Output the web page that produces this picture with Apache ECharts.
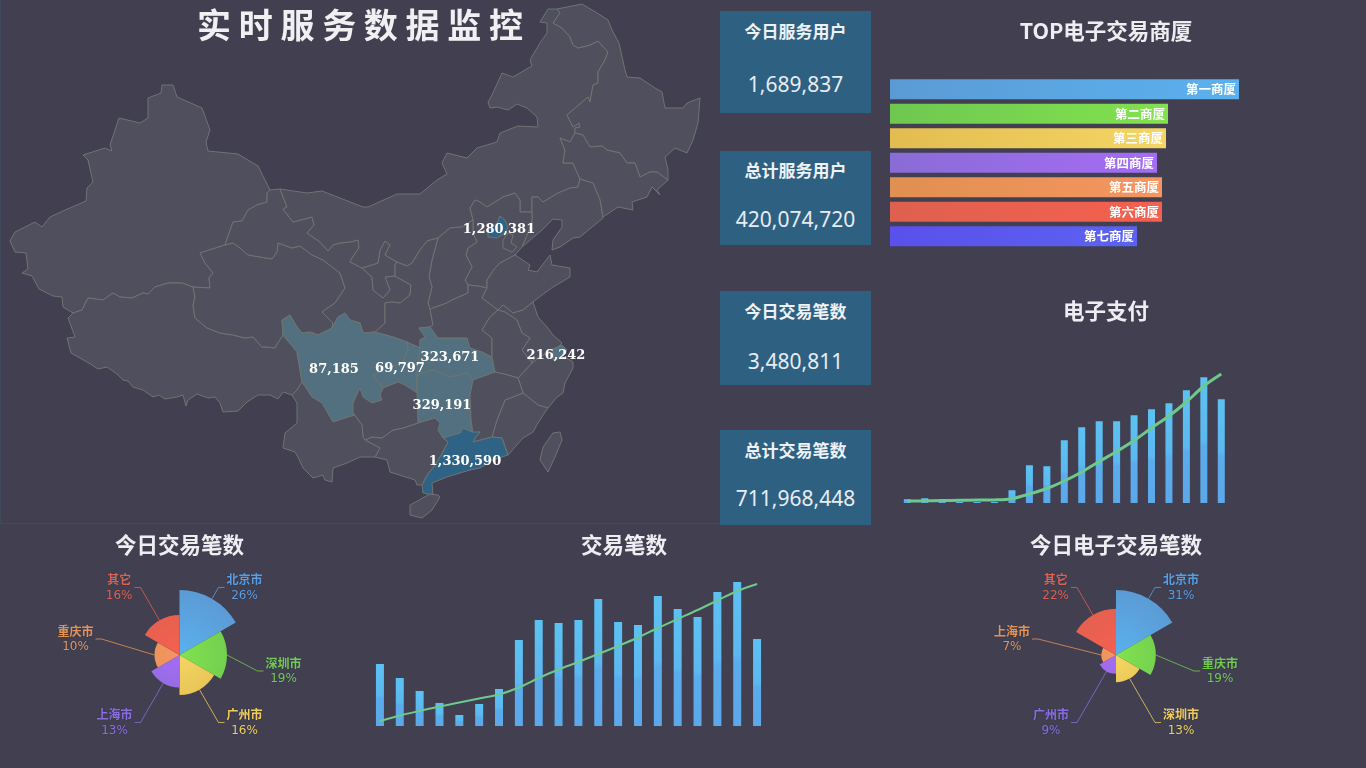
<!DOCTYPE html>
<html>
<head>
<meta charset="utf-8">
<title>实时服务数据监控</title>
<script src="https://cdn.jsdelivr.net/npm/echarts@6/dist/echarts.min.js"></script>
<style>
html,body{margin:0;padding:0;width:1366px;height:768px;overflow:hidden;background:#413f50;font-family:"Noto Sans CJK SC",sans-serif;}
.chart{position:absolute;}
#chartMap{left:0;top:0;width:720px;height:524px;box-sizing:border-box;border-left:1px solid #3e4b5c;border-bottom:1px solid #3e4b5c;}
#chartTop{left:880px;top:0;width:452px;height:260px;}
#chartPay{left:880px;top:290px;width:452px;height:230px;}
#chartTrade{left:360px;top:525px;width:528px;height:215px;}
#chartPieA{left:39px;top:525px;width:281px;height:240px;}
#chartPieB{left:976px;top:525px;width:280px;height:240px;}
.stat{position:absolute;left:720px;width:151px;background:#2e6082;text-align:center;}
.stat b{position:absolute;left:0;right:0;font-size:17px;line-height:24px;color:#eef1f5;}
.stat span{position:absolute;left:0;right:0;font-family:"Noto Sans",sans-serif;font-size:21px;line-height:28px;color:#e8ecf2;}
</style>
</head>
<body>
<div id="chartMap" class="chart"></div>
<div id="chartTop" class="chart"></div>
<div id="chartPay" class="chart"></div>
<div id="chartTrade" class="chart"></div>
<div id="chartPieA" class="chart"></div>
<div id="chartPieB" class="chart"></div>
<div id="stats"></div>
<script>
//---------数据-------------------
var statTitles = ['今日服务用户','总计服务用户','今日交易笔数','总计交易笔数'];
var statValues = ['1,689,837','420,074,720','3,480,811','711,968,448'];

var regionNames = ['北京','广东','四川','重庆','湖北','湖南','上海'];
var regionValues = [1280381,1330590,87185,69797,323671,329191,216242];

var topNames = ['第一商厦','第二商厦','第三商厦','第四商厦','第五商厦','第六商厦','第七商厦'];
var topValues = [3490,2780,2760,2670,2720,2720,2470];

var payDays = ['1','2','3','4','5','6','7','8','9','10','11','12','13','14','15','16','17','18','19'];
var payBars = [3.7,4.7,2.7,1,1,1,12.7,37.7,36.7,62.7,75.7,81.7,81.7,87.7,93.7,99.7,112.7,125.7,103.7];
var payLine = [2,2.2,2.5,2.7,2.9,3.1,4.3,9,14.5,22,31,41.5,51.5,62.5,75,87,101,117,129];

var tradeDays = ['1','2','3','4','5','6','7','8','9','10','11','12','13','14','15','16','17','18','19','20'];
var tradeBars = [62,48,35,23,11,22,37,86,106,103,106,127,104,101,130,117,109,134,144,87];
var tradeLine = [5,10.5,15,19.5,23.5,27.5,31.5,38.5,48,56.5,64,72,80,88.5,98,107,116,125.5,135,142];

var pieNamesA = ['北京市','深圳市','广州市','上海市','重庆市','其它'];
var pieValuesA = [26,19,16,13,10,16];
var pieNamesB = ['北京市','重庆市','深圳市','广州市','上海市','其它'];
var pieValuesB = [31,19,13,9,7,22];

//---省界，手工描的墨卡托投影坐标（约 10km 一个单位，y 向下），只是底图
var provinceShapes = [
    ['新疆','270,190 258,166 238,154 208,151 206,142 210,130 202,108 193,104 177,97 173,85 162,85 161,93 148,98 148,118 140,123 119,118 110,145 112,151 105,148 83,155 88,160 93,182 87,188 86,201 63,211 50,217 42,227 35,222 25,227 15,232 10,241 15,252 26,253 28,269 22,273 32,276 39,289 53,296 62,297 63,307 73,313 82,310 88,298 103,300 113,293 120,297 132,298 143,293 148,294 155,287 168,283 182,283 193,287 210,288 209,278 213,273 205,263 200,253 225,245 233,222 242,221 248,210 257,205 267,202 267,193'],
    ['西藏','73,313 82,310 88,298 103,300 113,293 120,297 132,298 143,293 148,294 155,287 168,283 182,283 193,287 195,297 193,305 195,318 207,328 220,333 233,335 245,338 253,337 262,347 268,347 275,348 277,344 283,335 297,352 302,382 297,390 292,395 283,392 278,399 270,395 258,395 247,402 238,411 223,412 220,403 215,397 208,398 197,394 188,400 186,406 183,395 177,397 165,399 159,395 153,397 143,390 133,387 128,381 123,380 117,374 107,367 98,369 92,365 80,358 71,353 67,338 75,337 68,318'],
    ['青海','200,253 225,245 233,243 240,248 248,255 260,257 272,259 277,252 278,243 292,248 300,246 312,255 323,260 340,273 345,288 335,303 322,312 333,323 332,328 318,335 310,332 302,333 297,327 290,315 282,320 283,335 277,344 275,348 268,347 262,347 253,337 245,338 233,335 220,333 207,328 195,318 193,305 195,297 193,287 210,288 209,278 213,273 205,263'],
    ['甘肃','225,245 233,222 242,221 248,210 257,205 267,202 267,193 270,190 280,189 287,207 283,209 293,222 312,217 314,225 307,233 320,242 328,251 333,245 340,243 350,242 358,240 359,248 352,258 350,262 362,268 372,277 373,290 383,298 390,290 385,277 395,276 411,285 410,295 400,303 392,302 385,303 385,323 375,332 363,333 360,323 350,320 345,313 338,317 332,328 333,323 322,312 335,303 345,288 340,273 323,260 312,255 300,246 292,248 278,243 277,252 272,259 260,257 248,255 240,248 233,243'],
    ['宁夏','362,268 378,263 380,250 385,241 390,245 385,255 397,262 395,265 395,276 385,277 390,290 383,298 373,290 372,277'],
    ['内蒙古','280,189 307,193 322,191 340,198 363,207 368,207 397,194 420,194 437,180 447,174 442,163 447,153 467,158 477,148 497,142 500,133 518,126 538,127 537,117 527,108 517,104 508,110 497,107 490,108 488,102 492,95 502,73 513,77 532,66 530,60 540,43 547,33 547,23 540,22 548,9 557,9 560,13 553,23 562,28 570,37 573,45 578,48 590,45 598,41 608,52 605,60 598,72 598,83 593,85 590,102 588,97 567,115 573,127 579,123 580,127 575,128 575,133 570,142 560,138 565,150 563,163 573,163 580,179 578,187 570,188 558,193 543,202 538,197 532,197 532,212 520,212 520,200 515,193 503,197 487,207 480,202 475,200 470,208 473,220 462,227 450,228 438,238 427,241 420,250 412,263 407,266 397,262 385,255 390,245 385,241 380,250 378,263 362,268 350,262 352,258 359,248 358,240 350,242 340,243 333,245 328,251 320,242 307,233 314,225 312,217 293,222 283,209 287,207'],
    ['黑龙江','557,9 582,4 597,13 608,20 612,30 619,43 625,70 627,77 640,78 655,88 662,92 665,108 683,108 687,103 700,98 698,123 693,140 687,153 675,148 665,157 668,170 668,180 657,172 650,172 640,177 635,163 627,163 620,153 607,150 602,146 590,147 583,135 575,133 575,128 580,127 579,123 573,127 567,115 588,97 590,102 593,85 598,83 598,72 605,60 608,52 598,41 590,45 578,48 573,45 570,37 562,28 553,23 560,13'],
    ['吉林','575,133 583,135 590,147 602,146 607,150 620,153 627,163 635,163 640,177 650,172 657,172 668,180 657,190 660,195 652,187 647,197 632,202 633,210 618,207 603,217 600,200 593,183 583,180 580,179 573,163 563,163 565,150 560,138 570,142'],
    ['辽宁','580,179 583,180 593,183 600,200 603,218 580,237 573,238 560,247 552,250 553,240 562,227 562,220 553,219 542,230 522,247 527,235 532,222 532,212 532,197 538,197 543,202 558,193 570,188 578,187'],
    ['河北','473,220 470,208 475,200 480,202 487,207 503,197 515,193 520,200 520,212 532,212 532,222 527,235 522,247 515,255 500,263 495,268 487,280 487,288 478,286 468,285 465,280 472,267 466,255 468,248 477,242 473,233'],
    ['北京','500,216 505,220 508,227 505,233 497,238 488,237 488,230 497,223'],
    ['天津','508,233 513,235 511,243 517,247 512,252 503,248 503,240'],
    ['山西','473,220 473,233 477,242 468,248 466,255 472,267 465,280 468,285 468,293 452,300 447,303 430,309 428,303 432,287 429,277 432,260 438,238 450,228 462,227'],
    ['陕西','438,238 432,260 429,277 432,287 428,303 430,309 433,325 430,327 419,328 425,337 420,340 420,348 407,342 393,337 375,332 385,323 385,303 392,302 400,303 410,295 411,285 395,276 395,265 397,262 407,266 412,263 420,250 427,241'],
    ['四川','283,335 282,320 290,315 297,327 302,333 310,332 318,335 332,328 338,317 345,313 350,320 360,323 363,333 375,332 393,337 407,342 408,350 402,363 373,375 383,388 380,395 382,400 372,403 363,397 360,388 353,403 355,415 345,418 333,422 322,403 312,397 302,382 297,352'],
    ['重庆','407,342 420,348 417,375 417,393 405,385 398,382 383,388 373,375 402,363 408,350'],
    ['湖北','419,328 430,327 438,338 467,338 470,348 482,352 492,357 495,372 473,380 467,373 450,377 433,370 417,375 420,348 420,340 425,337'],
    ['湖南','417,375 433,370 450,377 467,373 473,380 470,395 471,420 472,432 463,428 460,433 443,438 438,430 440,423 435,418 418,423 417,393'],
    ['河南','430,309 447,303 452,300 468,293 468,285 478,286 487,288 482,298 498,310 490,317 482,330 492,338 492,357 482,352 470,348 467,338 438,338 430,327 433,325'],
    ['山东','515,255 530,265 528,270 537,272 550,255 552,265 570,268 570,277 553,287 542,295 533,302 523,310 513,313 503,305 498,310 482,298 487,288 487,280 495,268 500,263'],
    ['江苏','533,302 538,317 547,327 553,335 562,343 558,347 553,349 543,355 533,360 532,363 522,350 530,338 522,333 517,320 505,312 498,310 503,305 513,313 523,310'],
    ['上海','553,349 562,345 567,350 562,358 553,360'],
    ['浙江','518,378 532,363 543,355 553,349 553,360 565,357 573,362 573,368 565,383 563,393 557,397 548,408 538,405 523,393'],
    ['安徽','498,310 505,312 517,320 522,333 530,338 522,350 532,363 518,378 508,375 495,372 492,357 492,338 482,330 490,317'],
    ['福建','523,393 538,405 548,408 545,412 538,423 533,432 523,438 508,455 502,438 492,437 497,420 505,400'],
    ['江西','473,380 495,372 508,375 518,378 523,393 505,400 497,420 492,437 473,442 475,438 480,432 473,433 472,432 471,420 470,395'],
    ['广东','443,438 460,433 463,428 472,432 473,433 480,432 475,438 473,442 492,437 502,438 508,455 493,460 480,468 470,470 460,473 447,477 432,483 433,495 423,493 422,485 427,475 435,465 440,457 448,442'],
    ['广西','443,438 438,430 440,423 435,418 418,423 403,428 393,430 382,438 372,437 365,440 380,448 375,457 387,460 390,472 415,480 417,485 422,485 427,475 435,465 440,457 448,442'],
    ['贵州','417,393 418,423 403,428 393,430 382,438 372,437 365,440 363,437 362,425 353,413 353,403 360,388 363,397 372,403 382,400 380,395 383,388 398,382 405,385'],
    ['云南','302,382 312,397 322,403 333,422 345,418 355,415 353,413 362,425 363,437 365,440 380,448 375,457 360,457 347,463 333,468 332,482 325,480 323,475 313,478 303,468 298,457 295,452 283,448 285,433 297,423 297,403 292,395 297,390'],
    ['台湾','560,432 553,433 543,447 540,460 548,472 555,457 562,440'],
    ['海南','438,495 430,494 410,505 410,515 422,518 432,510 440,497']
];
//---数字标签的位置
var labelAnchors = {'北京':[499,230],'广东':[465,462],'四川':[334,370],'重庆':[400,369],'湖北':[450,358],'湖南':[442,406],'上海':[556,356]};

//---颜色，内 -> 外
var palette = [
    ['#5ab1ef','#5b9bd5'],['#82e24e','#6ec850'],['#f4d663','#e3bc50'],['#a56cf5','#8a6cd6'],
    ['#f59562','#e09050'],['#f5604f','#df6050'],['#5c62f0','#5a50ec']
];
var textColors = ['#5a9de0','#74c94f','#f0cc5c','#8d6be0','#e59355','#e0604f'];

//---------统计方块-------------------
var statBoxes = [[11,102,8,59],[151,94,7,54],[291,94,8,56],[430,95,8,54]];//--top,height,标题top,数字top
var statsHtml = '';
for(var i = 0;i < statTitles.length;i++){
    var b = statBoxes[i];
    statsHtml += '<div class="stat" style="top:' + b[0] + 'px;height:' + b[1] + 'px">'
        + '<b style="top:' + b[2] + 'px">' + statTitles[i] + '</b>'
        + '<span style="top:' + b[3] + 'px">' + statValues[i] + '</span></div>';
}
document.getElementById('stats').innerHTML = statsHtml;

function titleOf(text,top){
    return {
        text:text,left:'center',top:top,padding:0,
        textStyle:{color:'#eeeef2',fontSize:21.5,fontWeight:'bold',fontFamily:'"Noto Sans CJK SC"'}
    };
}

//---------地图-------------------
var features = provinceShapes.map(function(s){
    var ring = s[1].split(' ').map(function(p){
        return p.split(',').map(Number);
    });
    ring.push(ring[0]);
    var props = {name:s[0]};
    if(labelAnchors[s[0]]){
        props.cp = labelAnchors[s[0]];
    }
    return {type:'Feature',properties:props,geometry:{type:'Polygon',coordinates:[ring]}};
});
//---不能叫 china，否则 echarts 会自动加南海诸岛
echarts.registerMap('cnMap',{type:'FeatureCollection',features:features});

var mapChart = echarts.init(document.getElementById('chartMap'));
mapChart.setOption({
    title:{
        text:'实 时 服 务 数 据 监 控',left:196,top:8,padding:0,
        textStyle:{color:'#f0f0f2',fontSize:34,fontWeight:'bold',fontFamily:'"Noto Sans CJK SC"'}
    },
    visualMap:{
        type:'piecewise',show:false,seriesIndex:0,
        pieces:[{min:1000000,color:'#2f6386'},{max:999999,color:'#52707f'}]
    },
    series:[{
        type:'map',
        map:'cnMap',
        projection:{
            project:function(p){return p;},
            unproject:function(p){return p;}
        },
        left:9,top:4,width:690,height:514,
        roam:false,
        silent:true,
        selectedMode:false,
        itemStyle:{areaColor:'#504f5d',borderColor:'#6f7472',borderWidth:1},
        label:{
            show:true,color:'#fff',fontSize:13,fontWeight:'bold',fontFamily:'"DejaVu Serif"',
            formatter:function(p){
                return isNaN(p.value) ? '' : p.value.toLocaleString('en-US');
            }
        },
        data:regionNames.map(function(n,i){
            return {name:n,value:regionValues[i]};
        })
    }]
});

//---------TOP 横向柱子-------------------
var topChart = echarts.init(document.getElementById('chartTop'));
topChart.setOption({
    title:titleOf('TOP电子交易商厦',20),
    grid:{left:10,top:77,width:349,height:171.5},
    xAxis:{type:'value',show:false,min:0,max:topValues[0]},
    yAxis:{type:'category',show:false,inverse:true,data:topNames},
    series:[{
        type:'bar',
        barWidth:20,
        silent:true,
        data:topValues.map(function(v,i){
            return {
                value:v,
                itemStyle:{color:new echarts.graphic.LinearGradient(0,0,1,0,[
                    {offset:0,color:palette[i][1]},{offset:1,color:palette[i][0]}
                ])}
            };
        }),
        label:{
            show:true,position:'insideRight',distance:3,
            formatter:'{b}',color:'#fff',fontSize:12.5,fontWeight:'bold',
            fontFamily:'"Noto Sans CJK SC"'
        }
    }]
});

//---------柱子 + 折线-------------------
function barLineOption(title,titleTop,grid,yMax,days,bars,line,barWidth,lineWidth){
    return {
        title:titleOf(title,titleTop),
        grid:grid,
        xAxis:{type:'category',show:false,data:days},
        yAxis:{type:'value',show:false,min:0,max:yMax},
        series:[{
            type:'bar',
            barWidth:barWidth,
            silent:true,
            itemStyle:{color:new echarts.graphic.LinearGradient(0,0,0,1,[
                {offset:0,color:'#5cc2f2'},{offset:0.5,color:'#5cb8f0'},{offset:0.55,color:'#5bacec'},{offset:1,color:'#5ba8ea'}
            ])},
            data:bars
        },{
            type:'line',
            smooth:0.3,
            symbol:'none',
            silent:true,
            lineStyle:{color:'#6ec98c',width:lineWidth},
            data:line
        }]
    };
}
var payChart = echarts.init(document.getElementById('chartPay'));
payChart.setOption(barLineOption('电子支付',10,{left:18.6,top:83,width:331.4,height:130},130,payDays,payBars,payLine,7,3));

var tradeChart = echarts.init(document.getElementById('chartTrade'));
tradeChart.setOption(barLineOption('交易笔数',9,{left:10,top:51,width:397,height:150},150,tradeDays,tradeBars,tradeLine,8,2));

//---------玫瑰图-------------------
function roseOption(title,names,values,cx,cy){
    return {
        title:titleOf(title,9),
        series:[{
            type:'pie',
            roseType:'area',
            center:[cx,cy],
            radius:[0,65],
            clockwise:true,
            startAngle:90,
            silent:true,
            labelLine:{length:13,length2:6},
            //---左右两个水平方向的标签错开一点，右边往下，左边往上
            labelLayout:function(params){
                var pts = params.labelLinePoints;
                if(!pts || Math.abs(pts[1][1] - cy) > 2){
                    return {};
                }
                var d = pts[1][0] > cx ? 16 : -16;
                return {
                    dy:d,
                    labelLinePoints:[pts[0],[pts[1][0],pts[1][1] + d],[pts[2][0],pts[2][1] + d]]
                };
            },
            data:names.map(function(n,i){
                return {
                    name:n,
                    value:values[i],
                    itemStyle:{color:new echarts.graphic.RadialGradient(cx,cy,65,[
                        {offset:0,color:palette[i][0]},{offset:1,color:palette[i][1]}
                    ],true)},
                    labelLine:{lineStyle:{color:textColors[i],width:1,opacity:0.8}},
                    label:{
                        rich:{
                            n:{color:textColors[i],fontSize:12,fontWeight:'bold',lineHeight:16,align:'center',fontFamily:'"Noto Sans CJK SC"'},
                            p:{color:textColors[i],fontSize:12,lineHeight:16,align:'center',fontFamily:'"DejaVu Sans"'}
                        }
                    }
                };
            }),
            label:{
                show:true,
                distanceToLabelLine:2,
                formatter:function(p){
                    return '{n|' + p.name + '}\n{p|' + Math.round(p.percent) + '%}';
                },
                textShadowColor:'rgba(30,45,70,0.6)',textShadowBlur:2
            }
        }]
    };
}
var pieA = echarts.init(document.getElementById('chartPieA'));
pieA.setOption(roseOption('今日交易笔数',pieNamesA,pieValuesA,140.5,130));

var pieB = echarts.init(document.getElementById('chartPieB'));
pieB.setOption(roseOption('今日电子交易笔数',pieNamesB,pieValuesB,140,130));
</script>
</body>
</html>
